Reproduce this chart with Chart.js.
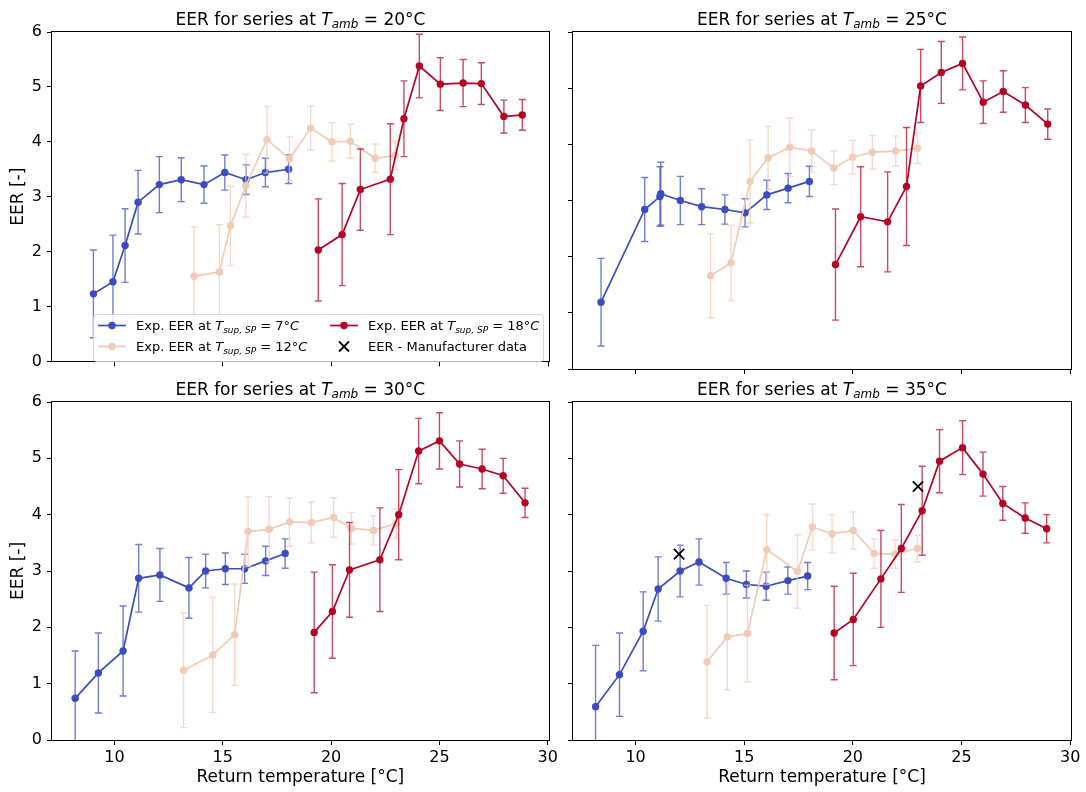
<!DOCTYPE html>
<html>
<head>
<meta charset="utf-8">
<script src="https://cdn.jsdelivr.net/npm/chart.js@4.4.1/dist/chart.umd.min.js"></script>
<style>
  html, body { margin: 0; background: #fff; }
  #wrap { position: relative; width: 1086px; height: 792px; }
  canvas { position: absolute; }
</style>
</head>
<body>
<div id="wrap">
  <canvas id="c20" width="561" height="376" style="left:0;top:0"></canvas>
  <canvas id="c25" width="525" height="376" style="left:561px;top:0"></canvas>
  <canvas id="c30" width="561" height="416" style="left:0;top:376px"></canvas>
  <canvas id="c35" width="525" height="416" style="left:561px;top:376px"></canvas>
</div>
<script>
/* ========== DATA ========== */
const xTicks = [10, 15, 20, 25, 30];
const yTicks = [0, 1, 2, 3, 4, 5, 6];

// T_amb = 20 °C
const t20_x7  = [9.03, 9.93, 10.49, 11.09, 12.07, 13.08, 14.13, 15.09, 16.07, 16.96, 18.03];
const t20_y7  = [1.23, 1.45, 2.11, 2.90, 3.22, 3.31, 3.22, 3.44, 3.31, 3.44, 3.50];
const t20_e7  = [0.80, 0.85, 0.67, 0.58, 0.51, 0.40, 0.34, 0.32, 0.27, 0.26, 0.26];
const t20_x12 = [13.67, 14.84, 15.35, 16.06, 17.03, 18.07, 19.05, 20.03, 20.88, 22.02, 22.95];
const t20_y12 = [1.55, 1.63, 2.47, 3.20, 4.04, 3.69, 4.25, 4.00, 4.01, 3.70, 3.75];
const t20_e12 = [0.90, 0.86, 0.72, 0.57, 0.61, 0.40, 0.40, 0.35, 0.31, 0.26, 0.26];
const t20_x18 = [19.40, 20.50, 21.34, 22.72, 23.35, 24.06, 25.03, 26.08, 26.92, 27.96, 28.81];
const t20_y18 = [2.03, 2.31, 3.13, 3.32, 4.42, 5.38, 5.05, 5.07, 5.06, 4.46, 4.49];
const t20_e18 = [0.93, 0.93, 0.74, 1.01, 0.69, 0.58, 0.48, 0.43, 0.38, 0.30, 0.28];

// T_amb = 25 °C
const t25_x7  = [8.41, 10.42, 11.12, 11.16, 12.06, 13.04, 14.11, 15.04, 16.04, 17.02, 18.00];
const t25_y7  = [1.19, 2.84, 3.07, 3.12, 3.00, 2.89, 2.84, 2.78, 3.10, 3.22, 3.34];
const t25_e7  = [0.78, 0.57, 0.53, 0.56, 0.43, 0.32, 0.26, 0.25, 0.26, 0.26, 0.27];
const t25_x12 = [13.45, 14.39, 15.27, 16.10, 17.10, 18.10, 19.12, 19.99, 20.90, 21.97, 22.98];
const t25_y12 = [1.66, 1.89, 3.34, 3.76, 3.95, 3.88, 3.58, 3.77, 3.86, 3.88, 3.93];
const t25_e12 = [0.75, 0.67, 0.74, 0.56, 0.52, 0.38, 0.30, 0.30, 0.30, 0.27, 0.27];
const t25_x18 = [19.20, 20.36, 21.60, 22.47, 23.12, 24.07, 25.05, 26.00, 26.92, 27.94, 28.97];
const t25_y18 = [1.86, 2.71, 2.62, 3.25, 5.04, 5.28, 5.44, 4.75, 4.94, 4.70, 4.36];
const t25_e18 = [0.99, 0.89, 0.89, 1.05, 0.65, 0.55, 0.47, 0.38, 0.37, 0.31, 0.27];

// T_amb = 30 °C
const t30_x7  = [8.19, 9.26, 10.40, 11.12, 12.10, 13.44, 14.21, 15.12, 16.01, 16.98, 17.88];
const t30_y7  = [0.74, 1.19, 1.58, 2.87, 2.93, 2.70, 3.00, 3.04, 3.04, 3.18, 3.31];
const t30_e7  = [0.84, 0.71, 0.80, 0.60, 0.47, 0.54, 0.30, 0.28, 0.26, 0.26, 0.26];
const t30_x12 = [13.19, 14.54, 15.55, 16.17, 17.14, 18.08, 19.09, 20.12, 20.93, 21.95, 23.00];
const t30_y12 = [1.24, 1.51, 1.87, 3.70, 3.74, 3.87, 3.86, 3.95, 3.76, 3.72, 3.84];
const t30_e12 = [1.02, 1.02, 0.90, 0.62, 0.58, 0.43, 0.36, 0.35, 0.28, 0.26, 0.26];
const t30_x18 = [19.22, 20.06, 20.85, 22.25, 23.12, 24.04, 25.00, 25.93, 26.97, 27.94, 28.95];
const t30_y18 = [1.91, 2.28, 3.02, 3.20, 4.00, 5.13, 5.31, 4.90, 4.81, 4.69, 4.21];
const t30_e18 = [1.07, 0.83, 0.84, 0.92, 0.80, 0.58, 0.50, 0.41, 0.35, 0.31, 0.26];

// T_amb = 35 °C
const t35_x7  = [8.16, 9.26, 10.35, 11.04, 12.05, 12.92, 14.17, 15.10, 16.01, 17.01, 17.92];
const t35_y7  = [0.59, 1.16, 1.93, 2.68, 3.00, 3.16, 2.87, 2.76, 2.73, 2.83, 2.91];
const t35_e7  = [1.09, 0.74, 0.70, 0.57, 0.46, 0.41, 0.28, 0.24, 0.25, 0.24, 0.24];
const t35_x12 = [13.29, 14.22, 15.15, 16.04, 17.45, 18.14, 19.04, 20.02, 20.98, 21.94, 22.97];
const t35_y12 = [1.39, 1.83, 1.89, 3.38, 2.99, 3.78, 3.66, 3.72, 3.31, 3.30, 3.40];
const t35_e12 = [1.00, 0.94, 0.86, 0.62, 0.65, 0.41, 0.34, 0.33, 0.26, 0.25, 0.24];
const t35_x18 = [19.14, 20.02, 21.29, 22.23, 23.19, 23.99, 25.05, 25.99, 26.90, 27.93, 28.92];
const t35_y18 = [1.90, 2.14, 2.86, 3.40, 4.07, 4.95, 5.19, 4.72, 4.20, 3.94, 3.75];
const t35_e18 = [0.83, 0.82, 0.86, 0.78, 0.79, 0.56, 0.48, 0.39, 0.30, 0.27, 0.25];

// manufacturer data (only at 35 °C)
const mfr_x = [12, 23];
const mfr_y = [3.3, 4.5];

/* ========== STYLE ========== */
const FONT = "'DejaVu Sans'";
const C7  = "#3b4cc0";
const C12 = "#f2cbb7";
const C18 = "#b40426";
const ERR_ALPHA = 0.72;

function rgba(hex, a){
  const n = parseInt(hex.slice(1), 16);
  return `rgba(${n>>16},${(n>>8)&255},${n&255},${a})`;
}

function pts(xs, ys){ return xs.map((x,i)=>({x:x, y:ys[i]})); }

// draw text made of runs (normal / italic / subscript)
function drawRuns(ctx, runs, x, base, align){
  let w = 0;
  runs.forEach(r=>{ ctx.font = r.f; r.w = ctx.measureText(r.t).width; w += r.w; });
  let cx = align === "center" ? x - w/2 : x;
  runs.forEach(r=>{ ctx.font = r.f; ctx.fillText(r.t, cx, base + (r.dy||0)); cx += r.w; });
}

/* ========== PLUGINS ========== */
// error bars, drawn just under each series
const errPlugin = {
  id: "errs",
  beforeDatasetDraw(chart, args){
    const ds = chart.data.datasets[args.index];
    if(!ds.yErr) return;
    const {ctx, chartArea:a, scales:{x, y}} = chart;
    ctx.save();
    ctx.beginPath();
    ctx.rect(a.left, a.top, a.right - a.left, a.bottom - a.top);
    ctx.clip();
    ctx.strokeStyle = rgba(ds.borderColor, ERR_ALPHA);
    ctx.lineWidth = 1.4;
    ds.data.forEach((p,i)=>{
      const px = x.getPixelForValue(p.x);
      const yt = y.getPixelForValue(p.y + ds.yErr[i]);
      const yb = y.getPixelForValue(p.y - ds.yErr[i]);
      ctx.beginPath();
      ctx.moveTo(px, yt); ctx.lineTo(px, yb);
      ctx.moveTo(px - 3.5, yt); ctx.lineTo(px + 3.5, yt);
      ctx.moveTo(px - 3.5, yb); ctx.lineTo(px + 3.5, yb);
      ctx.stroke();
    });
    ctx.restore();
  }
};

// spines, title with subscript, legend
const panelPlugin = {
  id: "panel",
  afterDraw(chart, args, opts){
    const {ctx, chartArea:a} = chart;
    ctx.save();
    ctx.strokeStyle = "#000";
    ctx.lineWidth = 1;
    ctx.strokeRect(Math.round(a.left) - 0.5, Math.round(a.top) - 0.5,
                   Math.round(a.right - a.left) + 1, Math.round(a.bottom - a.top) + 1);

    // title
    ctx.fillStyle = "#000";
    ctx.textBaseline = "alphabetic";
    drawRuns(ctx, [
      {t:"EER for series at ", f:`17px ${FONT}`},
      {t:"T", f:`italic 17px ${FONT}`},
      {t:"amb", f:`italic 12px ${FONT}`, dy:3.5},
      {t:" = " + opts.tamb + "°C", f:`17px ${FONT}`}
    ], (a.left + a.right)/2, a.top - 7.5, "center");

    if(opts.legend) drawLegend(ctx);
    ctx.restore();
  }
};

function legendLabel(ctx, x, base, sp){
  drawRuns(ctx, [
    {t:"Exp. EER at ", f:`13px ${FONT}`},
    {t:"T", f:`italic 13px ${FONT}`},
    {t:"sup, SP", f:`italic 9px ${FONT}`, dy:2.5},
    {t:" = " + sp + "°", f:`13px ${FONT}`},
    {t:"C", f:`italic 13px ${FONT}`}
  ], x, base, "left");
}

function legendHandle(ctx, x0, x1, yc, col){
  ctx.strokeStyle = col; ctx.lineWidth = 1.7;
  ctx.beginPath(); ctx.moveTo(x0, yc); ctx.lineTo(x1, yc); ctx.stroke();
  ctx.fillStyle = col;
  ctx.beginPath(); ctx.arc((x0+x1)/2, yc, 3.7, 0, Math.PI*2); ctx.fill();
}

function drawLegend(ctx){
  const bx = 93.5, by = 314.5, bw = 450, bh = 47;
  ctx.fillStyle = "rgba(255,255,255,0.8)";
  ctx.strokeStyle = "rgba(204,204,204,0.8)";
  ctx.lineWidth = 1;
  ctx.beginPath(); ctx.roundRect(bx, by, bw, bh, 3); ctx.fill(); ctx.stroke();

  const r1 = 325.5, r2 = 346.5;
  legendHandle(ctx, 98, 126, r1, C7);
  legendHandle(ctx, 98, 126, r2, C12);
  legendHandle(ctx, 330, 358, r1, C18);
  // manufacturer cross
  ctx.strokeStyle = "#000"; ctx.lineWidth = 1.8;
  ctx.beginPath();
  ctx.moveTo(339, r2 - 5); ctx.lineTo(349, r2 + 5);
  ctx.moveTo(339, r2 + 5); ctx.lineTo(349, r2 - 5);
  ctx.stroke();

  ctx.fillStyle = "#000";
  legendLabel(ctx, 136, r1 + 4.7, "7");
  legendLabel(ctx, 136, r2 + 4.7, "12");
  legendLabel(ctx, 368, r1 + 4.7, "18");
  drawRuns(ctx, [{t:"EER - Manufacturer data", f:`13px ${FONT}`}], 368, r2 + 4.7, "left");
}

/* ========== CHART FACTORY ========== */
function series(xs, ys, es, col, order){
  return {
    data: pts(xs, ys), yErr: es, order: order,
    borderColor: col, backgroundColor: col,
    pointBackgroundColor: col, pointBorderColor: col,
    borderWidth: 1.7, pointRadius: 3.7, pointBorderWidth: 0,
    tension: 0, fill: false
  };
}

function makeChart(id, p){
  const datasets = [
    series(p.x7, p.y7, p.e7, C7, 3),
    series(p.x12, p.y12, p.e12, C12, 2),
    series(p.x18, p.y18, p.e18, C18, 1)
  ];
  if(p.mx){
    datasets.push({
      data: pts(p.mx, p.my), order: 0, showLine: false,
      pointStyle: "crossRot", pointRadius: 7.3, pointBorderWidth: 1.8,
      pointBorderColor: "#000", borderColor: "#000", backgroundColor: "#000"
    });
  }
  return new Chart(document.getElementById(id), {
    type: "line",
    data: { datasets },
    options: {
      responsive: false, animation: false, events: [],
      layout: { padding: p.pad },
      plugins: { legend:{display:false}, tooltip:{enabled:false},
                 panel: { tamb: p.tamb, legend: !!p.legend } },
      scales: {
        x: {
          type: "linear", min: 7.12, max: 30.04,
          afterBuildTicks: s => { s.ticks = xTicks.map(v=>({value:v})); },
          afterFit: s => { s.height = p.xH; },
          ticks: { display: p.showX, color:"#000", font:{family:FONT, size:16}, padding:3, maxRotation:0, autoSkip:false },
          grid: { display:true, drawOnChartArea:false, drawTicks:true, tickLength:5, tickWidth:1, tickColor:"#000" },
          border: { display:false },
          title: { display: p.showX, text:"Return temperature [°C]", color:"#000",
                   font:{family:FONT, size:17}, padding:{top:0, bottom:4} }
        },
        y: {
          type: "linear", min: 0, max: 6,
          afterBuildTicks: s => { s.ticks = yTicks.map(v=>({value:v})); },
          afterFit: s => { s.width = p.yW; },
          ticks: { display: p.showY, color:"#000", font:{family:FONT, size:16}, padding:5 },
          grid: { display:true, drawOnChartArea:false, drawTicks:true, tickLength:5, tickWidth:1, tickColor:"#000" },
          border: { display:false },
          title: { display: p.showY, text:"EER [-]", color:"#000",
                   font:{family:FONT, size:17}, padding:{top:8, bottom:0} }
        }
      }
    },
    plugins: [errPlugin, panelPlugin]
  });
}

makeChart("c20", {
  tamb:"20", legend:true, showX:false, showY:true, yW:52, xH:7,
  pad:{left:0, right:12, top:32, bottom:0},
  x7:t20_x7, y7:t20_y7, e7:t20_e7, x12:t20_x12, y12:t20_y12, e12:t20_e12, x18:t20_x18, y18:t20_y18, e18:t20_e18
});
makeChart("c25", {
  tamb:"25", showX:false, showY:false, yW:12, xH:7,
  pad:{left:0, right:15, top:32, bottom:0},
  x7:t25_x7, y7:t25_y7, e7:t25_e7, x12:t25_x12, y12:t25_y12, e12:t25_e12, x18:t25_x18, y18:t25_y18, e18:t25_e18
});
makeChart("c30", {
  tamb:"30", showX:true, showY:true, yW:52, xH:52,
  pad:{left:0, right:12, top:26, bottom:0},
  x7:t30_x7, y7:t30_y7, e7:t30_e7, x12:t30_x12, y12:t30_y12, e12:t30_e12, x18:t30_x18, y18:t30_y18, e18:t30_e18
});
makeChart("c35", {
  tamb:"35", showX:true, showY:false, yW:12, xH:52,
  pad:{left:0, right:15, top:26, bottom:0},
  x7:t35_x7, y7:t35_y7, e7:t35_e7, x12:t35_x12, y12:t35_y12, e12:t35_e12, x18:t35_x18, y18:t35_y18, e18:t35_e18,
  mx:mfr_x, my:mfr_y
});
</script>
</body>
</html>
